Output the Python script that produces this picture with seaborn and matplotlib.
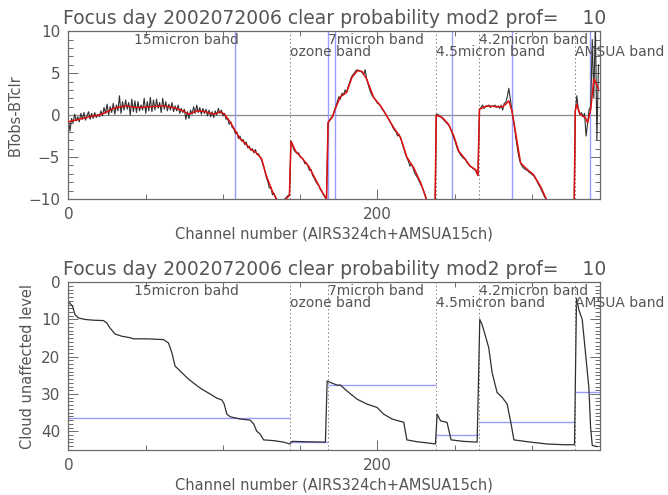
import numpy as np
import pandas as pd
import matplotlib
matplotlib.use("Agg")
import matplotlib.pyplot as plt
import seaborn as sns
from matplotlib.ticker import MultipleLocator, FixedLocator

# ---------------------------------------------------------------------------
# Data
# ---------------------------------------------------------------------------
title_text = "Focus day 2002072006 clear probability mod2 prof=    10"

# BTobs - BTclr per channel (black), split by band
bt_15um = [-0.6, -1.9, -0.4, -0.9, 0.1, -0.7, -0.2, -0.8, 0.2, -0.5,
           0.3, -0.6, -0.1, 0.4, -0.5, 0.2, -0.4, 0.3, -0.3, 0.1,
           -0.2, 0.5, -0.1, 0.9, 0.2, 1.3, 0.0, 1.0, 0.3, 1.4,
           0.1, 1.2, 0.5, 2.3, 0.2, 1.6, 0.6, 1.8, 0.7, 1.5,
           0.0, 1.9, 0.4, 1.7, 0.3, 1.6, 0.5, 1.2, 0.6, 2.0,
           0.2, 1.6, 0.5, 2.1, 0.4, 1.8, 0.6, 1.9, 0.8, 1.5,
           0.3, 2.0, 0.7, 1.6, 0.5, 1.3, 0.6, 1.5, 0.4, 1.1,
           0.5, 1.2, 0.2, 0.8, 0.3, 0.7, -0.5, 0.4, -0.4, 0.6,
           0.1, 1.0, 0.2, 1.2, 0.3, 0.9, 0.1, 0.8, 0.2, 0.7,
           -0.1, 0.6, -0.2, 0.4, -0.3, 0.5, 0.0, 0.8, 0.2, 0.6,
           -0.1, 0.2, -0.5, -0.4, -1.1, -0.8, -1.5, -1.6]
bt_15um_tail = [-2.2, -2.0, -2.8, -2.5, -3.1, -2.9, -3.5, -3.2, -3.9, -3.7,
                -4.2, -4.0, -4.5, -4.1, -4.7, -4.6, -5.0, -5.4, -6.0, -6.6,
                -7.4, -7.9, -8.7, -8.6, -9.5, -9.3, -9.9, -10.2, -10.4, -10.3,
                -10.4, -10.1, -10.0, -9.8, -9.6, -9.5]
bt_ozone = [-3.1, -3.6, -4.2, -4.4, -4.6, -4.5, -5.0, -5.1, -5.3, -5.8,
            -5.7, -6.1, -6.6, -6.5, -7.2, -7.5, -7.9, -8.2, -8.4, -8.9,
            -9.1, -9.5, -9.8, -10.0]
bt_7um = [-0.9, -0.6, -0.3, -0.2, 0.5, 1.0, 1.6, 2.2, 1.9, 2.6,
          2.4, 3.0, 2.7, 3.4, 3.9, 4.5, 4.8, 5.0, 5.3, 5.4,
          5.3, 5.2, 5.1, 4.8, 5.4, 4.3, 3.6, 3.0, 2.5, 2.2,
          2.0, 1.7, 1.4, 1.3, 1.1, 0.7, 0.5, 0.2, -0.1, -0.4,
          -0.8, -1.1, -1.5, -1.8, -2.0, -2.5, -2.3, -2.8, -3.4, -4.0,
          -4.6, -5.1, -5.5, -6.1, -5.8, -6.3, -6.9, -7.2, -7.5, -7.9,
          -8.3, -8.6, -9.1, -9.6, -10.3, -11.0, -12.0, -13.0, -14.0, -15.0]
bt_45um = [0.0, 0.1, -0.1, -0.2, -0.4, -0.6, -0.8, -1.0, -1.2, -1.5,
           -2.0, -2.5, -3.0, -3.6, -4.2, -4.5, -4.8, -5.0, -5.2, -5.3,
           -5.7, -5.9, -6.1, -6.2, -6.4, -6.5, -6.8, -7.2]
bt_42um = [0.7, 0.9, 1.2, 0.8, 1.1, 1.0, 1.2, 0.9, 1.1, 1.0,
           1.2, 0.9, 1.1, 0.8, 1.2, 0.6, 1.4, 1.5, 2.2, 3.2,
           1.8, 0.5, -0.6, -2.0, -3.3, -4.5, -5.4, -5.9, -6.2, -6.4,
           -6.5, -6.6, -6.8, -6.9, -7.1, -7.2, -7.5, -7.8, -8.2, -8.5,
           -8.9, -9.3, -9.7, -10.0, -10.2, -11.0, -12.0, -13.0, -14.0, -15.0,
           -15.0, -15.0, -15.0, -15.0, -15.0, -15.0, -15.0, -15.0, -15.0, -15.0,
           -15.0, -15.0]
bt_amsua = [0.4, 2.3, 0.6, 0.1, 0.3, -0.2, 0.2, -2.5, -0.9, 0.7,
            1.0, 9.0, 2.0, 11.0, -3.0, 6.0]

# Smoothed BTobs - BTclr (red)
smooth_ch = [0, 7, 16, 20, 25, 29, 37, 44, 53, 61, 68, 74, 78, 83, 89, 94, 98, 101,
             105, 108, 111, 114, 118, 121, 125, 128, 132, 135, 139, 143,
             144, 147, 151, 155.5, 160, 164, 167,
             168, 170.5, 173, 176, 180, 183.5, 187, 190, 193, 197.5, 202, 206,
             210.5, 215, 219, 223.5, 228, 231, 233, 237,
             238, 242, 246, 249.4, 252.6, 257, 260, 263.5, 265,
             266, 271, 277.5, 281, 283, 285, 287, 289.4, 292.6, 297, 301, 305.5,
             309, 311, 327,
             328, 329, 331, 334.5, 336, 338, 340, 341.7, 343]
smooth_val = [-0.8, -0.5, -0.1, 0.0, 0.4, 0.8, 1.1, 0.9, 1.0, 1.1, 0.9, 0.5, 0.1, 0.5, 0.4, 0.1, 0.4, 0.1,
              -0.9, -1.9, -2.8, -3.3, -4.1, -4.4, -5.2, -7.2, -9.1, -10.1, -10.3, -9.6,
              -3.1, -4.3, -5.1, -6.1, -7.7, -9.1, -10.0,
              -0.9, -0.3, 0.9, 2.2, 2.7, 4.5, 5.3, 5.2, 4.3, 2.1, 1.1, -0.1,
              -1.5, -2.7, -5.0, -6.3, -8.1, -9.7, -11.0, -15.0,
              0.0, -0.3, -1.1, -2.5, -4.3, -5.3, -6.1, -6.5, -7.2,
              0.7, 1.1, 1.0, 1.0, 1.3, 1.7, 0.5, -2.1, -5.7, -6.5, -7.1, -8.5,
              -9.9, -11.0, -15.0,
              0.5, 1.3, 0.1, -0.3, -0.9, 0.7, 4.3, 3.7, 3.1]

# Cloud unaffected level per channel
level_ch = [0, 2.7, 4.2, 6.4, 10.7, 16, 22.6, 24.7, 26.9, 30.1, 34.5, 39.9, 42, 50.7,
            61.5, 64.7, 66.9, 69, 73.4, 77.7, 82, 86.3, 91.7, 96, 99.3, 100.8, 102.5,
            104.7, 111.1, 117.6, 119.8, 121.9, 124, 126.3, 132.8, 139.3, 143.2,
            144.7, 154.5, 166.3,
            167.4, 169.5, 173.8, 176, 180.3, 186.8, 193.2, 199.7, 204, 209.4, 217,
            219, 225.6, 232, 237.5,
            238.6, 240.8, 245, 246, 247.6, 255.8, 264.5,
            266.2, 267.7, 269.9, 272, 274.2, 277.4, 280.7, 283.9, 286.1, 288.3, 299,
            309.8, 320.6, 327.5,
            328.8, 330.3, 332.5, 334.7, 336.8, 337.9, 339, 342.2]
level_val = [5.2, 6.5, 8.7, 9.6, 10.0, 10.2, 10.3, 10.9, 12.3, 13.9, 14.5, 14.9, 15.2, 15.2,
             15.4, 16.3, 18.9, 22.5, 24.3, 26.0, 27.4, 28.7, 30.0, 31.1, 31.6, 32.7, 35.4,
             36.1, 36.7, 37.0, 38.0, 40.0, 40.7, 42.3, 42.5, 42.9, 43.4,
             42.7, 42.8, 42.9,
             26.5, 26.9, 27.6, 27.6, 29.2, 31.4, 32.7, 33.6, 35.4, 36.7, 37.6,
             42.3, 42.8, 43.1, 43.4,
             35.4, 37.2, 37.6, 39.4, 42.3, 42.7, 42.9,
             10.0, 11.4, 14.5, 17.6, 24.3, 29.6, 30.9, 32.7, 37.2, 42.3, 42.9,
             43.4, 43.6, 43.6,
             4.3, 7.4, 10.0, 19.4, 28.3, 38.9, 43.8, 44.1]

# Band layout
band_edges = [0, 143.5, 168, 238, 265.5, 328, 344]
band_names = ["15micron band", "ozone band", "7micron band",
              "4.5micron band", "4.2micron band", "AMSUA band"]
band_label_x = [42.5, 143.5, 168, 238, 265.5, 328]
band_label_row = [0, 1, 0, 1, 0, 1]

# Channels marked in blue on the departure panel
marked_channels = [107.5, 168, 172.5, 248, 287, 337.5]
# Per-band level marked in blue on the level panel
band_level = [36.4, 42.8, 27.6, 41.0, 37.6, 29.4]

# ---------------------------------------------------------------------------
# Assemble tables
# ---------------------------------------------------------------------------
bt_obs = bt_15um + bt_15um_tail + bt_ozone + bt_7um + bt_45um + bt_42um + bt_amsua
dep = pd.DataFrame({"channel": np.arange(len(bt_obs)), "dbt": bt_obs})
smooth = pd.DataFrame({"channel": smooth_ch, "dbt": smooth_val})
levels = pd.DataFrame({"channel": level_ch, "level": level_val})

# ---------------------------------------------------------------------------
# Style
# ---------------------------------------------------------------------------
sns.set_theme(style="white")
plt.rcParams["font.family"] = ["DejaVu Sans"]

TEXT = "#555555"
AXIS = "#6a6a6a"
BLUE = "#9a9aff"
RED = "#e01010"
BLACK = "#303030"

fig = plt.figure(figsize=(6.68, 4.95), dpi=100)
ax1 = fig.add_axes([0.1025, 0.598, 0.7957, 0.339])
ax2 = fig.add_axes([0.1025, 0.091, 0.7957, 0.339])


def style_axes(ax, ymajor, yminor):
    ax.set_xlim(band_edges[0], band_edges[-1])
    ax.xaxis.set_major_locator(FixedLocator([0, 200]))
    ax.xaxis.set_minor_locator(MultipleLocator(50))
    ax.yaxis.set_major_locator(MultipleLocator(ymajor))
    ax.yaxis.set_minor_locator(MultipleLocator(yminor))
    ax.tick_params(which="both", direction="in", bottom=True, left=True,
                   top=True, right=True, color=AXIS, width=0.7,
                   labelcolor=TEXT, labelsize=11, pad=6)
    ax.tick_params(which="major", length=7)
    ax.tick_params(which="minor", length=3.5)
    for sp in ax.spines.values():
        sp.set_color(AXIS)
        sp.set_linewidth(0.9)
    ax.text(0.5, 1.075, title_text, transform=ax.transAxes, ha="center",
            va="center", fontsize=13.5, color=TEXT)
    for e in band_edges[1:-1]:
        ax.axvline(e, color="#808080", lw=0.7, ls=(0, (1.5, 2.5)), zorder=1)
    for name, x, row in zip(band_names, band_label_x, band_label_row):
        ax.text(x, 0.95 - 0.075 * row, name, transform=ax.get_xaxis_transform(),
                ha="left", va="center", fontsize=10, color=TEXT, clip_on=False)


# Top panel: departures
style_axes(ax1, 5, 1)
ax1.set_ylim(-10, 10)
ax1.axhline(0, color="#8a8a8a", lw=0.9, zorder=1)
for c in marked_channels:
    ax1.axvline(c, color=BLUE, lw=1.0, zorder=1.5)
sns.lineplot(data=dep, x="channel", y="dbt", ax=ax1, color=BLACK, lw=0.8,
             estimator=None, sort=False, zorder=2)
sns.lineplot(data=smooth, x="channel", y="dbt", ax=ax1, color=RED, lw=1.1,
             estimator=None, sort=False, zorder=3)
ax1.set_ylabel("BTobs-BTclr", color=TEXT, fontsize=10.5, labelpad=4)
ax1.set_xlabel("Channel number (AIRS324ch+AMSUA15ch)", color=TEXT,
               fontsize=10.5, labelpad=3)

# Bottom panel: cloud unaffected level
style_axes(ax2, 10, 1)
ax2.set_ylim(45, 0)
for i, lv in enumerate(band_level):
    ax2.hlines(lv, band_edges[i], band_edges[i + 1], color=BLUE, lw=1.0, zorder=1.5)
sns.lineplot(data=levels, x="channel", y="level", ax=ax2, color=BLACK, lw=0.9,
             estimator=None, sort=False, zorder=2)
ax2.set_ylabel("Cloud unaffected level", color=TEXT, fontsize=10.5, labelpad=4)
ax2.set_xlabel("Channel number (AIRS324ch+AMSUA15ch)", color=TEXT,
               fontsize=10.5, labelpad=3)

fig.savefig("out.png", dpi=100, facecolor="white")
